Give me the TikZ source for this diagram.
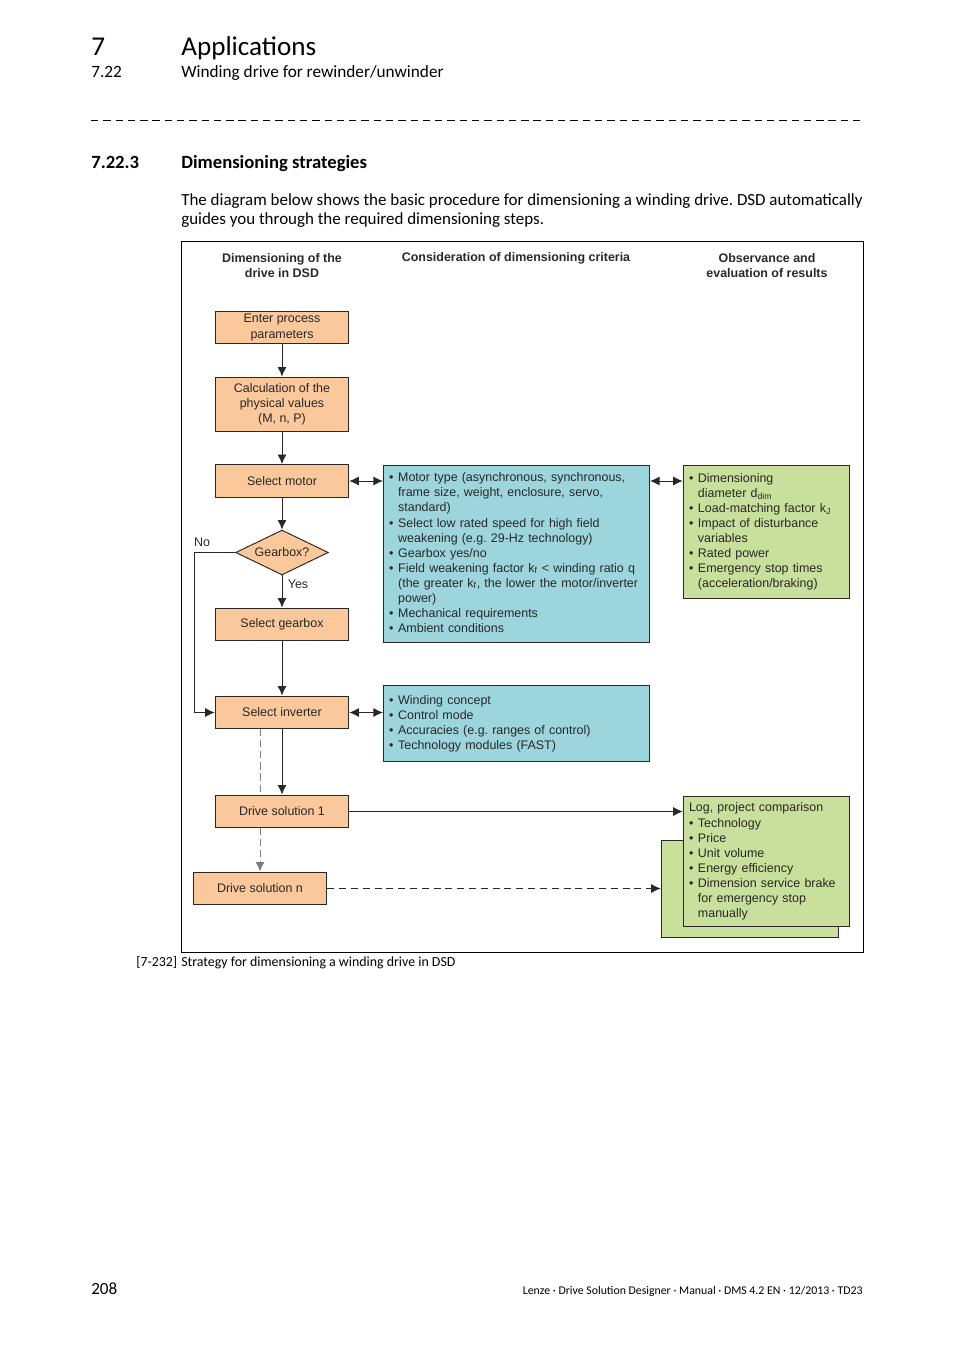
\documentclass[tikz,border=0pt]{standalone}
\usepackage{fontspec}
\setmainfont{Carlito}
\newfontfamily\arialfont{Liberation Sans}
\usetikzlibrary{shapes.geometric, arrows.meta, positioning}
\frenchspacing

\definecolor{stepfill}{RGB}{250,200,155}
\definecolor{critfill}{RGB}{157,213,220}
\definecolor{evalfill}{RGB}{200,224,155}
\definecolor{linegray}{RGB}{40,40,40}
\definecolor{dashgray}{RGB}{125,125,125}

% one pixel of the page
\def\pxu{0.6245pt}
\newcommand\critlist[1]{\begin{tabular}{@{}l@{\hspace{2.9pt}}l@{}}#1\end{tabular}}

\tikzset{
  pagetext/.style={anchor=base west, inner sep=0pt},
  diagtext/.style={font=\arialfont\fontsize{7.8}{9.4}\selectfont, text=linegray},
  headtext/.style={diagtext, font=\arialfont\bfseries\fontsize{7.8}{9.4}\selectfont, align=center, inner sep=0pt},
  stepbox/.style={diagtext, draw=linegray, fill=stepfill, line width=0.6pt,
    minimum width=134*\pxu, minimum height=33*\pxu, align=center, inner sep=1pt},
  critbox/.style={diagtext, draw=linegray, fill=critfill, line width=0.6pt,
    inner xsep=3.6pt, text width=159.5pt, align=left},
  evalbox/.style={diagtext, draw=linegray, fill=evalfill, line width=0.6pt,
    inner xsep=3.6pt, text width=97.1pt, align=left},
  arr/.style={-{Latex[length=6pt,width=5.6pt]}, draw=linegray, line width=0.6pt},
  darr/.style={{Latex[length=6pt,width=5.6pt]}-{Latex[length=6pt,width=5.6pt]}, draw=linegray, line width=0.6pt},
  dasharr/.style={arr, dash pattern=on 4.4pt off 3pt},
  grayline/.style={draw=dashgray, line width=0.6pt, dash pattern=on 4.4pt off 2.5pt}
}

\begin{document}
\begin{tikzpicture}[x=0.022013cm, y=-0.022013cm]
  \useasboundingbox (0,0) rectangle (954,1350);

  % page head
  \node[pagetext, font=\fontsize{17}{20}\selectfont] (chapno) at (91,55) {7};
  \node[pagetext, font=\fontsize{17}{20}\selectfont] (chap) at (181,55) {Applications};
  \node[pagetext, font=\fontsize{10.8}{13}\selectfont] (secno) at (91,77) {7.22};
  \node[pagetext, font=\fontsize{10.8}{13}\selectfont] (sec) at (181,77) {Winding drive for rewinder/unwinder};
  \draw[line width=0.6pt, dash pattern=on 4.6pt off 3.1pt] (91,120) -- (861,120);
  \node[pagetext, font=\bfseries\fontsize{11.7}{14}\selectfont] (subno) at (91,168) {7.22.3};
  \node[pagetext, font=\bfseries\fontsize{11.7}{14}\selectfont] (sub) at (181,168) {Dimensioning strategies};
  \node[pagetext, font=\fontsize{10.62}{12}\selectfont] (body1) at (181,205)
    {The diagram below shows the basic procedure for dimensioning a winding drive. DSD automatically};
  \node[pagetext, font=\fontsize{10.62}{12}\selectfont] (body2) at (181,224)
    {guides you through the required dimensioning steps.};

  % frame
  \draw[line width=0.6pt] (181,241) rectangle (863,952);

  % column heads
  \node[headtext] (head1) at (282,265.5) {Dimensioning of the\\drive in DSD};
  \node[headtext] (head2) at (516,258) {Consideration of dimensioning criteria};
  \node[headtext] (head3) at (767,265.5) {Observance and\\evaluation of results};

  % left column
  \node[stepbox] (enter) at (282,327.5) {Enter process\\parameters};
  \node[stepbox, minimum height=55*\pxu] (calc) at (282,404.5) {Calculation of the\\physical values\\(M, n, P)};
  \node[stepbox] (smotor) at (282,481) {Select motor};
  \node[diagtext, diamond, draw=linegray, fill=stepfill, line width=0.6pt, inner sep=0pt,
    aspect=2.07, minimum width=93*\pxu, minimum height=45*\pxu] (gear) at (282,552.5) {Gearbox?};
  \node[stepbox] (sgear) at (282,624.5) {Select gearbox};
  \node[stepbox] (sinv) at (282,712.5) {Select inverter};
  \node[stepbox] (drv1) at (282,811.5) {Drive solution 1};
  \node[stepbox] (drvn) at (260,888.5) {Drive solution n};
  \node[diagtext] (no) at (202,542) {No};
  \node[diagtext] (yes) at (298,584) {Yes};
  \coordinate (nobend) at (194,552.5);

  % criteria
  \node[critbox, minimum height=178*\pxu] (crit1) at (516.5,554) {\critlist{
    \textbullet & Motor type (asynchronous, synchronous,\\
    & frame size, weight, enclosure, servo,\\
    & standard)\\
    \textbullet & Select low rated speed for high field\\
    & weakening (e.g. 29-Hz technology)\\
    \textbullet & Gearbox yes/no\\
    \textbullet & Field weakening factor k\textsubscript{f} < winding ratio q\\
    & (the greater k\textsubscript{f}, the lower the motor/inverter\\
    & power)\\
    \textbullet & Mechanical requirements\\
    \textbullet & Ambient conditions}};
  \node[critbox, minimum height=77*\pxu] (crit2) at (516.5,723.5) {\critlist{
    \textbullet & Winding concept\\
    \textbullet & Control mode\\
    \textbullet & Accuracies (e.g. ranges of control)\\
    \textbullet & Technology modules (FAST)}\\[9pt]};

  % results
  \node[evalbox, minimum height=134*\pxu] (eval1) at (766.5,532) {\critlist{
    \textbullet & Dimensioning\\
    & diameter d\textsubscript{dim}\\
    \textbullet & Load-matching factor k\textsubscript{J}\\
    \textbullet & Impact of disturbance\\
    & variables\\
    \textbullet & Rated power\\
    \textbullet & Emergency stop times\\
    & (acceleration/braking)}};
  \node[draw=linegray, fill=evalfill, line width=0.6pt, inner sep=0pt,
    minimum width=178*\pxu, minimum height=98*\pxu] (logback) at (750,889) {};
  \node[evalbox, minimum height=131*\pxu] (logfront) at (766.5,861.5) {\critlist{
    \multicolumn{2}{@{}l@{}}{Log, project comparison}\\
    \textbullet & Technology\\
    \textbullet & Price\\
    \textbullet & Unit volume\\
    \textbullet & Energy efficiency\\
    \textbullet & Dimension service brake\\
    & for emergency stop\\
    & manually}};

  % connectors
  \draw[arr] (enter) -- (calc);
  \draw[arr] (calc) -- (smotor);
  \draw[arr] (smotor) -- (gear);
  \draw[arr] (gear) -- (sgear);
  \draw[arr] (sgear) -- (sinv);
  \draw[arr] (gear.west) -- (nobend) |- (sinv.west);
  \draw[darr] (smotor.east) -- (smotor.east -| crit1.west);
  \draw[darr] (crit1.east |- smotor.east) -- (eval1.west |- smotor.east);
  \draw[darr] (sinv.east) -- (sinv.east -| crit2.west);
  \draw[arr] (sinv) -- (drv1);
  \draw[grayline] (sinv.south -| drvn.north) -- (drv1.north -| drvn.north);
  \draw[grayline, -{Latex[length=6pt,width=5.6pt]}] (drv1.south -| drvn.north) -- (drvn.north);
  \draw[arr] (drv1.east) -- (drv1.east -| logfront.west);
  \draw[dasharr] (drvn.east) -- (drvn.east -| logback.west);

  % caption and foot
  \node[pagetext, font=\fontsize{8.7}{10}\selectfont] (capno) at (136,966) {[7-232]};
  \node[pagetext, font=\fontsize{8.7}{10}\selectfont] (cap) at (181,966) {Strategy for dimensioning a winding drive in DSD};
  \node[pagetext, font=\fontsize{10.7}{13}\selectfont] (pageno) at (91,1294) {208};
  \node[pagetext, anchor=base east, font=\fontsize{7.4}{9}\selectfont] (foot) at (863,1294)
    {Lenze · Drive Solution Designer · Manual · DMS 4.2 EN · 12/2013 · TD23};
\end{tikzpicture}
\end{document}
